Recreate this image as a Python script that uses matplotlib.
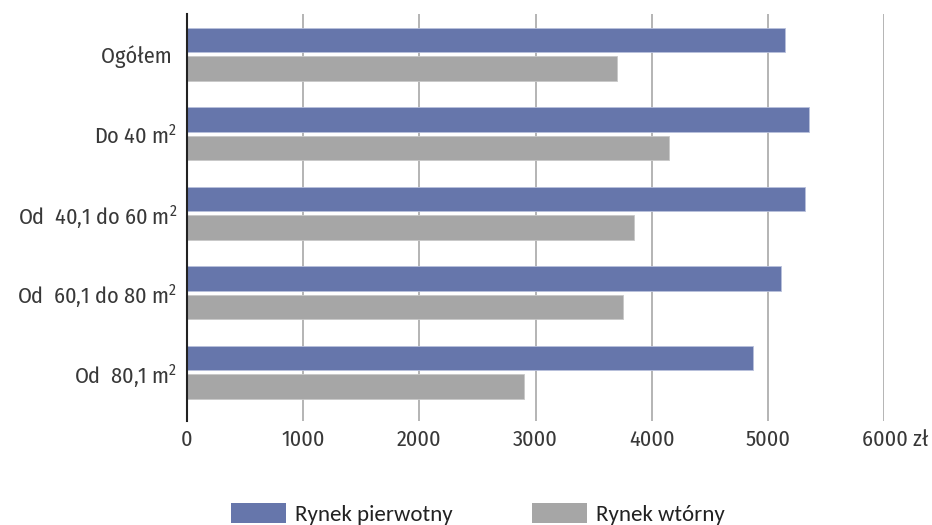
import matplotlib
matplotlib.use("Agg")
import matplotlib.pyplot as plt
import matplotlib.transforms as mtransforms
from matplotlib.patches import Patch
import numpy as np

# średnie ceny za m2 (zł)
kategorie = ["Ogółem ", "Do 40 m$^{2}$", "Od  40,1 do 60 m$^{2}$",
             "Od  60,1 do 80 m$^{2}$", "Od  80,1 m$^{2}$"]
rynek_pierwotny = [5150, 5355, 5320, 5115, 4870]
rynek_wtorny = [3700, 4150, 3850, 3750, 2900]
xticks = [0, 1000, 2000, 3000, 4000, 5000, 6000]
xtick_labels = ["0", "1000", "2000", "3000", "4000", "5000", "6000 zł"]

FONT = ["Fira Sans Condensed", "Roboto Condensed", "Liberation Sans", "DejaVu Sans"]
FONT_LEG = ["Carlito", "Liberation Sans", "DejaVu Sans"]
plt.rcParams["font.family"] = FONT
plt.rcParams["mathtext.fontset"] = "custom"
plt.rcParams["mathtext.rm"] = "Fira Sans Condensed"
plt.rcParams["mathtext.it"] = "Fira Sans Condensed"

KOLOR_P = "#6676ab"
KOLOR_W = "#a6a6a6"
KOLOR_TXT = "#383838"

fig = plt.figure(figsize=(9.32, 5.25), dpi=100)
ax = fig.add_axes([187 / 932, 1 - 421 / 525, (884 - 187) / 932, (421 - 14) / 525])

y = np.arange(len(kategorie))
h = 0.308
off = 0.179
ax.barh(y - off, rynek_pierwotny, height=h, color=KOLOR_P, edgecolor="#b8c0dc", linewidth=0.6)
ax.barh(y + off, rynek_wtorny, height=h, color=KOLOR_W, edgecolor="#c8c8c8", linewidth=0.6)

ax.set_xlim(0, 6000)
ax.set_ylim(4.61, -0.506)
ax.set_yticks(y)
ax.set_yticklabels(kategorie, fontsize=16, color=KOLOR_TXT)
ax.set_xticks(xticks)
ax.set_xticklabels(xtick_labels, fontsize=16, color=KOLOR_TXT)
ax.tick_params(axis="both", length=0)
ax.tick_params(axis="x", pad=6)
ax.tick_params(axis="y", pad=7)

# "zł" dopisane za ostatnią liczbą
last = ax.get_xticklabels()[-1]
last.set_horizontalalignment("left")
last.set_transform(last.get_transform() + mtransforms.ScaledTranslation(-22 / 100, 0, fig.dpi_scale_trans))

ax.grid(axis="x", color="#b4b4b4", linewidth=1.4)
ax.grid(axis="y", visible=False)
ax.set_axisbelow(True)
for s in ["top", "right", "bottom"]:
    ax.spines[s].set_visible(False)
ax.spines["left"].set_color("#222222")
ax.spines["left"].set_linewidth(1.5)

uchwyty = [Patch(facecolor=KOLOR_P), Patch(facecolor=KOLOR_W)]
fig.legend(uchwyty, ["Rynek pierwotny", "Rynek wtórny"], loc="center",
           bbox_to_anchor=(478 / 932, 1 - 514 / 525), ncol=2, frameon=False,
           prop={"family": FONT_LEG, "size": 16.5}, handlelength=2.4,
           handleheight=1.0, handletextpad=0.4, columnspacing=3.45,
           labelcolor="#222222")

fig.savefig("out.png", dpi=100)
